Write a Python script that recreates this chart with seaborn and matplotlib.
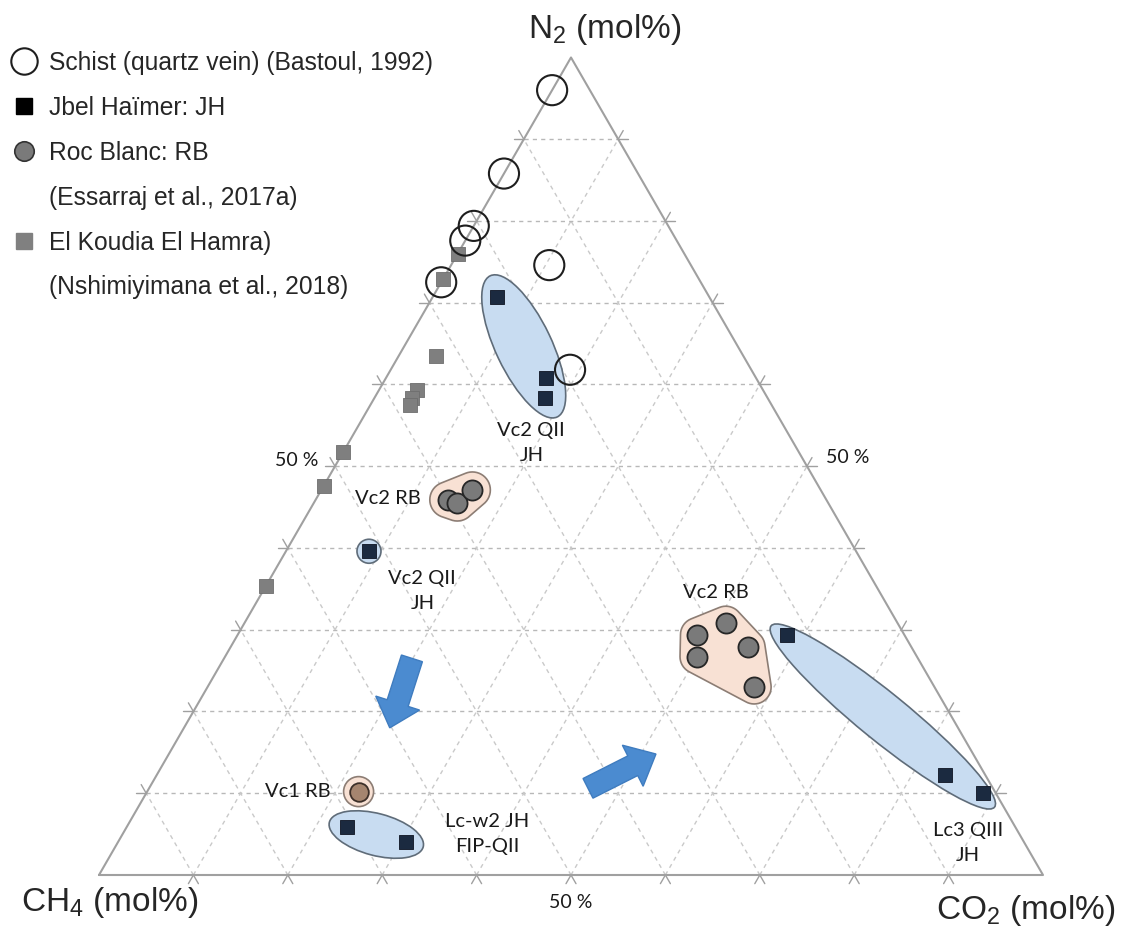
import numpy as np
import matplotlib
matplotlib.use("Agg")
import matplotlib.pyplot as plt
import seaborn as sns
from matplotlib.patches import Ellipse, Polygon, FancyArrow
from matplotlib.lines import Line2D

# ---- data (mol%, CH4 = 100 - N2 - CO2) ----
schist_n2 = [96.0, 85.8, 79.4, 77.6, 72.5, 74.6, 61.8]
schist_co2 = [0.0, 0.0, 0.0, 0.0, 0.0, 10.4, 19.0]

ekh_n2 = [76.0, 72.9, 63.5, 59.3, 58.3, 57.5, 51.7, 47.6, 35.4]
ekh_co2 = [0.0, 0.0, 3.9, 4.0, 4.0, 4.2, 0.0, 0.0, 0.0]

# Jbel Haimer (JH)
jh_vc2a_n2 = [70.7, 60.8, 58.3]
jh_vc2a_co2 = [6.8, 16.9, 18.1]
jh_vc2b_n2 = [39.6]
jh_vc2b_co2 = [8.8]
jh_lc3_n2 = [29.4, 12.2, 10.0]
jh_lc3_co2 = [58.2, 83.5, 88.6]
jh_lcw2_n2 = [5.9, 4.0]
jh_lcw2_co2 = [23.3, 30.5]

# Roc Blanc (RB)
rb_vc2a_n2 = [45.9, 45.5, 47.1]
rb_vc2a_co2 = [14.0, 15.2, 16.0]
rb_vc2b_n2 = [30.8, 29.4, 26.7, 27.9, 23.0]
rb_vc2b_co2 = [51.0, 48.7, 50.0, 54.8, 57.9]
rb_vc1_n2 = [10.2]
rb_vc1_co2 = [22.4]

legend_labels = ["Schist (quartz vein) (Bastoul, 1992)", "Jbel Haïmer: JH", "Roc Blanc: RB",
                 "(Essarraj et al., 2017a)", "El Koudia El Hamra)", "(Nshimiyimana et al., 2018)"]

H = np.sqrt(3) / 2
PX = 944.0  # pixels per unit triangle side


def tern_xy(n2, co2):
    n = np.asarray(n2, float) / 100
    c = np.asarray(co2, float) / 100
    return c + n / 2, n * H


def convex_hull(pts):
    pts = sorted(map(tuple, pts))
    def cross(o, a, b):
        return (a[0] - o[0]) * (b[1] - o[1]) - (a[1] - o[1]) * (b[0] - o[0])
    lower, upper = [], []
    for p in pts:
        while len(lower) >= 2 and cross(lower[-2], lower[-1], p) <= 0:
            lower.pop()
        lower.append(p)
    for p in reversed(pts):
        while len(upper) >= 2 and cross(upper[-2], upper[-1], p) <= 0:
            upper.pop()
        upper.append(p)
    return np.array(lower[:-1] + upper[:-1])


def ellipse_env(n2, co2, pad, half_w, **kw):
    x, y = tern_xy(n2, co2)
    P = np.column_stack([x, y])
    pad, half_w = pad / PX, half_w / PX
    if len(P) == 1:
        return Ellipse(P[0], 2 * half_w, 2 * half_w, **kw)
    d = P[-1] - P[0]
    d = d / np.linalg.norm(d)
    nrm = np.array([-d[1], d[0]])
    s, t = P @ d, P @ nrm
    center = (s.min() + s.max()) / 2 * d + t.mean() * nrm
    ang = np.degrees(np.arctan2(d[1], d[0]))
    return Ellipse(center, s.max() - s.min() + 2 * pad, 2 * half_w, angle=ang, **kw)


def hull_env(n2, co2, r, **kw):
    x, y = tern_xy(n2, co2)
    r = r / PX
    th = np.linspace(0, 2 * np.pi, 48, endpoint=False)
    pts = np.concatenate([np.column_stack([xi + r * np.cos(th), yi + r * np.sin(th)])
                          for xi, yi in zip(x, y)])
    return Polygon(convex_hull(pts), closed=True, **kw)


sns.set_style("white")
plt.rcParams["font.family"] = ["Liberation Sans", "DejaVu Sans"]
plt.rcParams["mathtext.default"] = "regular"

fig = plt.figure(figsize=(11.25, 9.31), dpi=100)
ax = fig.add_axes([99 / 1125, 56 / 931, 944 / 1125, 944 * H / 931])
ax.set_xlim(0, 1)
ax.set_ylim(0, H)
ax.axis("off")

edge_col = "#a0a0a0"
grid_col = "#c9c9c9"
tick_len = 10 / PX

# grid lines every 10 % plus tick marks outside the edges
for k in range(1, 10):
    f = k / 10
    segs = [((f / 2, f * H), (1 - f / 2, f * H)),                 # constant N2
            ((f, 0), (f + (1 - f) / 2, (1 - f) * H)),            # constant CO2
            ((1 - f, 0), ((1 - f) / 2, (1 - f) * H))]            # constant CH4
    for i, (p0, p1) in enumerate(segs):
        ax.plot([p0[0], p1[0]], [p0[1], p1[1]], ls=(0, (3, 3)),
                color="#b8b8b8" if i == 0 else grid_col, lw=1, zorder=1)
        d = np.subtract(p1, p0)
        d = d / np.linalg.norm(d)
        ax.plot([p0[0], p0[0] - d[0] * tick_len], [p0[1], p0[1] - d[1] * tick_len],
                color=edge_col, lw=1, clip_on=False, zorder=2)
        ax.plot([p1[0], p1[0] + d[0] * tick_len], [p1[1], p1[1] + d[1] * tick_len],
                color=edge_col, lw=1, clip_on=False, zorder=2)

ax.plot([0, 1, 0.5, 0], [0, 0, H, 0], color=edge_col, lw=1.5, zorder=2, clip_on=False)

# envelopes
blue = dict(facecolor="#c8dcf1", edgecolor="#5f6c79", lw=1.2, zorder=3)
peach = dict(facecolor="#f8e1d4", edgecolor="#8c7d74", lw=1.2, zorder=3)
ax.add_patch(ellipse_env(jh_vc2a_n2, jh_vc2a_co2, 22, 28, **blue))
ax.add_patch(ellipse_env(jh_vc2b_n2, jh_vc2b_co2, 0, 12, **blue))
ax.add_patch(ellipse_env(jh_lc3_n2, jh_lc3_co2, 18, 24, **blue))
ax.add_patch(ellipse_env(jh_lcw2_n2, jh_lcw2_co2, 18, 21, **blue))
ax.add_patch(hull_env(rb_vc2a_n2, rb_vc2a_co2, 18, **peach))
ax.add_patch(hull_env(rb_vc2b_n2, rb_vc2b_co2, 17, **peach))
ax.add_patch(ellipse_env(rb_vc1_n2, rb_vc1_co2, 0, 15, **peach))

# points
x, y = tern_xy(schist_n2, schist_co2)
sns.scatterplot(x=x, y=y, ax=ax, marker="o", s=470, facecolors="none",
                edgecolor="#1e1e1e", linewidth=1.5, zorder=5)
x, y = tern_xy(ekh_n2, ekh_co2)
sns.scatterplot(x=x, y=y, ax=ax, marker="s", s=105, color="#7f7f7f",
                edgecolor="#6e6e6e", linewidth=0.6, zorder=4)
for n2, co2 in [(jh_vc2a_n2, jh_vc2a_co2), (jh_vc2b_n2, jh_vc2b_co2),
                (jh_lc3_n2, jh_lc3_co2), (jh_lcw2_n2, jh_lcw2_co2)]:
    x, y = tern_xy(n2, co2)
    sns.scatterplot(x=x, y=y, ax=ax, marker="s", s=105, color="#1b2a40",
                    edgecolor="#0d1422", linewidth=0.6, zorder=6)
for n2, co2 in [(rb_vc2a_n2, rb_vc2a_co2), (rb_vc2b_n2, rb_vc2b_co2)]:
    x, y = tern_xy(n2, co2)
    sns.scatterplot(x=x, y=y, ax=ax, marker="o", s=210, color="#7a7a7a",
                    edgecolor="#262626", linewidth=1.3, zorder=6)
x, y = tern_xy(rb_vc1_n2, rb_vc1_co2)
sns.scatterplot(x=x, y=y, ax=ax, marker="o", s=180, color="#a5856f",
                edgecolor="#3d3029", linewidth=1.3, zorder=6)

# arrows (start N2, CO2 -> end N2, CO2)
for (n0, c0), (n1, c1) in [((26.5, 19.9), (18.0, 21.8)), ((10.6, 46.5), (14.8, 51.6))]:
    (x0, x1), (y0, y1) = tern_xy([n0, n1], [c0, c1])
    ax.add_patch(FancyArrow(x0, y0, x1 - x0, y1 - y0, width=22 / PX, head_width=46 / PX,
                            head_length=26 / PX, length_includes_head=True,
                            facecolor="#4b8bd0", edgecolor="#3f7cbf", lw=1, zorder=6))

# group labels
lab_font = dict(family=["Lato", "DejaVu Sans"], fontsize=14.5, color="#1a1a1a",
                ha="center", va="center", linespacing=1.55, zorder=7)
for txt, n2, co2 in [("Vc2 QII\nJH", 52.8, 19.4), ("Vc2 RB", 46.1, 7.6),
                     ("Vc2 QII\nJH", 34.7, 16.9), ("Vc2 RB", 34.5, 48.1),
                     ("Vc1 RB", 10.2, 16.0), ("Lc-w2 JH\nFIP-QII", 5.0, 38.6),
                     ("Lc3 QIII\nJH", 3.9, 90.1)]:
    tx, ty = tern_xy(n2, co2)
    ax.text(tx, ty, txt, **lab_font)

pct_font = dict(family=["Lato", "DejaVu Sans"], fontsize=14, color="#1a1a1a",
                ha="center", va="center")
ax.text(198 / PX, 414 / PX, "50 %", **pct_font)
ax.text(749 / PX, 417 / PX, "50 %", **pct_font)
ax.text(0.5, -28 / PX, "50 %", **pct_font)

# apex labels
ax.text(506 / PX, H + 28 / PX, "N$_2$ (mol%)", fontsize=24, ha="center", va="center")
ax.text(11 / PX, -28 / PX, "CH$_4$ (mol%)", fontsize=24, ha="center", va="center")
ax.text(927 / PX, -36 / PX, "CO$_2$ (mol%)", fontsize=24, ha="center", va="center")

# legend
handles = [
    Line2D([], [], ls="none", marker="o", ms=19, mfc="none", mec="#1e1e1e", mew=1.5),
    Line2D([], [], ls="none", marker="s", ms=11, mfc="black", mec="black"),
    Line2D([], [], ls="none", marker="o", ms=14, mfc="#7a7a7a", mec="#333333", mew=1.2),
    Line2D([], [], ls="none"),
    Line2D([], [], ls="none", marker="s", ms=11, mfc="#808080", mec="#808080"),
    Line2D([], [], ls="none"),
]
fig.legend(handles, legend_labels, loc="upper left", bbox_to_anchor=(10 / 1125, 1 - 51 / 931),
           frameon=False, fontsize=17.7, handlelength=1.15, handletextpad=0.45,
           labelspacing=0.85, borderpad=0, borderaxespad=0)

fig.savefig("out.png", dpi=100, facecolor="white")
